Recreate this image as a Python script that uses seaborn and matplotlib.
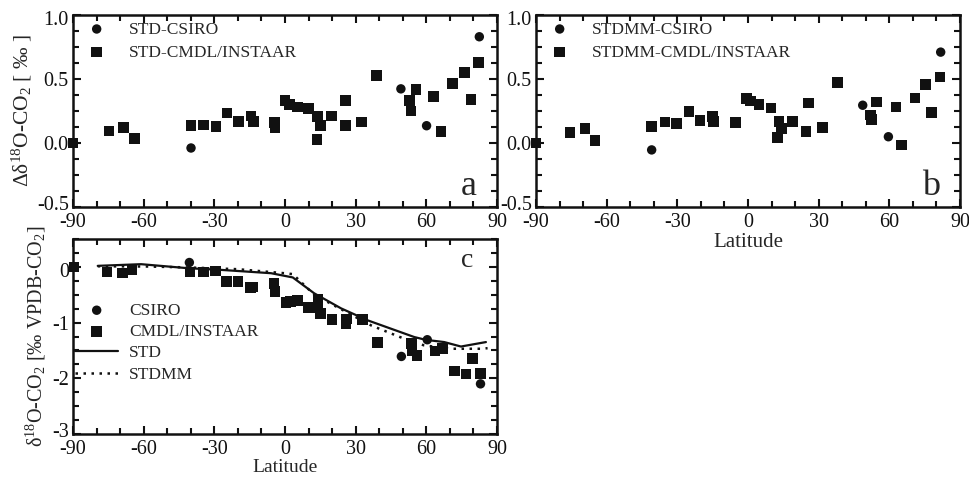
import numpy as np
import pandas as pd
import matplotlib
matplotlib.use("Agg")
import matplotlib.pyplot as plt
import matplotlib.transforms as mtransforms
import seaborn as sns
from matplotlib.ticker import MultipleLocator

# ---------------- data ----------------
# Panel a: STD minus observations
a_sq_lat = [-90, -74.8, -68.5, -63.9, -39.9, -34.5, -29.3, -24.6, -19.7, -14.4, -13.4, -4.5, -4.2,
            0, 2, 5.4, 9.9, 13.9, 13.6, 15, 19.8, 25.6, 25.7, 32.5, 38.9, 52.9, 53.5, 55.6,
            63.1, 66.2, 71.1, 76.1, 78.9, 82.2]
a_sq_val = [0.0, 0.095, 0.12, 0.036, 0.135, 0.14, 0.127, 0.236, 0.166, 0.212, 0.166, 0.158, 0.122,
            0.334, 0.303, 0.282, 0.27, 0.205, 0.028, 0.135, 0.21, 0.135, 0.334, 0.163, 0.528, 0.334,
            0.25, 0.42, 0.363, 0.088, 0.466, 0.551, 0.34, 0.63]
a_ci_lat = [-39.9, 49.2, 60.1, 82.5]
a_ci_val = [-0.039, 0.423, 0.135, 0.83]

# Panel b: STDMM minus observations
b_sq_lat = [-90, -75.6, -69.2, -65, -40.9, -35.2, -30.3, -25, -20.4, -15.1, -14.7, -5.2, -0.6,
            1.1, 4.7, 9.8, 13.2, 12.6, 14.3, 19, 24.6, 25.6, 31.7, 38.1, 52.1, 52.5, 54.6,
            62.8, 65.2, 70.9, 75.4, 78, 81.5]
b_sq_val = [0.0, 0.08, 0.114, 0.018, 0.127, 0.163, 0.153, 0.244, 0.174, 0.205, 0.166, 0.161, 0.347,
            0.329, 0.303, 0.275, 0.166, 0.044, 0.114, 0.166, 0.088, 0.313, 0.119, 0.474, 0.218,
            0.184, 0.321, 0.282, -0.016, 0.352, 0.459, 0.238, 0.516]
b_ci_lat = [-40.9, 48.7, 59.6, 81.8]
b_ci_val = [-0.054, 0.295, 0.049, 0.71]

# Panel c: observations and model curves
c_sq_lat = [-89.6, -75.6, -69.1, -64.9, -40.3, -34.6, -29.6, -24.9, -19.9, -14.6, -13.6, -4.6, -4.3,
            0.4, 2.3, 5.4, 10, 14, 13.7, 15.1, 20, 25.9, 26, 32.9, 39.3, 53.7, 54, 56.1,
            63.7, 66.9, 71.9, 76.9, 79.7, 83]
c_sq_val = [0.0, -0.09, -0.108, -0.048, -0.09, -0.09, -0.078, -0.258, -0.258, -0.372, -0.36, -0.3,
            -0.438, -0.642, -0.624, -0.606, -0.732, -0.582, -0.732, -0.84, -0.948, -1.02, -0.936,
            -0.942, -1.356, -1.38, -1.5, -1.596, -1.51, -1.47, -1.87, -1.92, -1.65, -1.91]
c_ci_lat = [-40.6, 49.4, 60.4, 83]
c_ci_val = [0.078, -1.608, -1.308, -2.1]

std_lat = [-79.5, -61.1, -41.3, -27.2, -5.9, 3.3, 12.4, 23.8, 35.1, 45, 54.9, 59.8, 67.6, 74.7, 85.3]
std_val = [0.018, 0.048, -0.024, -0.054, -0.114, -0.19, -0.475, -0.745, -0.96, -1.11, -1.26, -1.31,
           -1.35, -1.43, -1.35]
stdmm_lat = [-79.5, -58.3, -41.3, -20, -0.3, 3.3, 12.4, 36.5, 50.6, 59.1, 70.5, 83.2, 86]
stdmm_val = [0.01, 0.006, -0.01, -0.042, -0.114, -0.13, -0.5, -1.05, -1.29, -1.41, -1.47, -1.47, -1.46]

xticks = [-90, -60, -30, 0, 30, 60, 90]

# ---------------- style ----------------
sns.set_theme(style="ticks")
plt.rcParams['font.family'] = ['Liberation Serif', 'DejaVu Serif']
plt.rcParams['mathtext.fontset'] = 'custom'
plt.rcParams['mathtext.rm'] = 'Liberation Serif'
plt.rcParams['mathtext.it'] = 'Liberation Serif:italic'
plt.rcParams['axes.unicode_minus'] = False

fig = plt.figure(figsize=(9.69, 4.78), dpi=100)
ax_a = fig.add_axes([73/969, 1-207/478, 424/969, 192/478])
ax_b = fig.add_axes([536/969, 1-207/478, 424/969, 192/478])
ax_c = fig.add_axes([73/969, 1-434/478, 424/969, 195/478])

SQ = 58
CI = 46


def style_axis(ax, ylim, yminor, yticks, ylabels, xpad):
    ax.set_xlim(-90, 90)
    ax.set_ylim(*ylim)
    ax.set_xticks(xticks)
    ax.set_xticklabels([str(t) for t in xticks])
    ax.xaxis.set_minor_locator(MultipleLocator(10))
    ax.set_yticks(yticks)
    ax.set_yticklabels(ylabels)
    ax.yaxis.set_minor_locator(MultipleLocator(yminor))
    ax.tick_params(which='both', direction='in', top=True, right=True, width=1.5, colors='#111111',
                   labelsize=14.5)
    ax.tick_params(axis='x', pad=xpad)
    ax.tick_params(axis='y', pad=3)
    ax.tick_params(which='major', length=6)
    ax.tick_params(which='minor', length=4)
    for s in ax.spines.values():
        s.set_linewidth(1.8)
        s.set_color('#111111')
    ax.set_xlabel('')
    ax.set_ylabel('')
    # nudge the end y labels inward, as in the reference
    labs = ax.get_yticklabels()
    labs[0].set_transform(labs[0].get_transform() +
                          mtransforms.ScaledTranslation(0, 4/100, fig.dpi_scale_trans))
    labs[-1].set_transform(labs[-1].get_transform() +
                           mtransforms.ScaledTranslation(0, -3/100, fig.dpi_scale_trans))


def scat(ax, lat, val, marker, size, label):
    df = pd.DataFrame({'lat': lat, 'val': val})
    sns.scatterplot(data=df, x='lat', y='val', marker=marker, s=size, color='#111111',
                    edgecolor='none', linewidth=0, ax=ax, label=label, clip_on=False, zorder=3)


leg_kw = dict(frameon=False, fontsize=12.5, handlelength=2.5, handletextpad=0.6,
              borderpad=0.2, markerscale=1.0)

# Panel a
scat(ax_a, a_ci_lat, a_ci_val, 'o', CI, 'STD-CSIRO')
scat(ax_a, a_sq_lat, a_sq_val, 's', SQ, 'STD-CMDL/INSTAAR')
style_axis(ax_a, (-0.5, 1.0), 0.125, [-0.5, 0.0, 0.5, 1.0], ['-0.5', '0.0', '0.5', '1.0'], 4)
ax_a.legend(loc='upper left', bbox_to_anchor=(-0.024, 1.03), labelspacing=0.4, **leg_kw)
ax_a.text(0.953, 0.0625, 'a', transform=ax_a.transAxes, fontsize=26, ha='right', va='baseline')
ax_a.set_ylabel('Δδ$^{18}$O-CO$_2$ [ ‰ ]', fontsize=15.5, labelpad=2)

# Panel b
scat(ax_b, b_ci_lat, b_ci_val, 'o', CI, 'STDMM-CSIRO')
scat(ax_b, b_sq_lat, b_sq_val, 's', SQ, 'STDMM-CMDL/INSTAAR')
style_axis(ax_b, (-0.5, 1.0), 0.125, [-0.5, 0.0, 0.5, 1.0], ['-0.5', '0.0', '0.5', '1.0'], 4)
ax_b.legend(loc='upper left', bbox_to_anchor=(-0.024, 1.03), labelspacing=0.4, **leg_kw)
ax_b.text(0.953, 0.0625, 'b', transform=ax_b.transAxes, fontsize=26, ha='right', va='baseline')
ax_b.set_xlabel('Latitude', fontsize=15, labelpad=1)

# Panel c
scat(ax_c, c_ci_lat, c_ci_val, 'o', CI, 'CSIRO')
scat(ax_c, c_sq_lat, c_sq_val, 's', SQ, 'CMDL/INSTAAR')
sns.lineplot(x=std_lat, y=std_val, ax=ax_c, color='#111111', linewidth=1.6, sort=False,
             label='STD', zorder=2)
sns.lineplot(x=stdmm_lat, y=stdmm_val, ax=ax_c, color='#111111', linewidth=1.8, sort=False,
             label='STDMM', zorder=2, linestyle=(0, (1, 2.2)))
style_axis(ax_c, (-3, 0.5), 0.25, [-3, -2, -1, 0], ['-3', '-2', '-1', '0'], 4)
ax_c.legend(loc='center left', bbox_to_anchor=(-0.024, 0.468), labelspacing=0.3, **leg_kw)
ax_c.text(0.943, 0.856, 'c', transform=ax_c.transAxes, fontsize=20, ha='right', va='baseline')
ax_c.set_xlabel('Latitude', fontsize=14, labelpad=0)
ax_c.set_ylabel('δ$^{18}$O-CO$_2$ [‰ VPDB-CO$_2$]', fontsize=14.5, labelpad=3)

fig.savefig('out.png', dpi=100)
